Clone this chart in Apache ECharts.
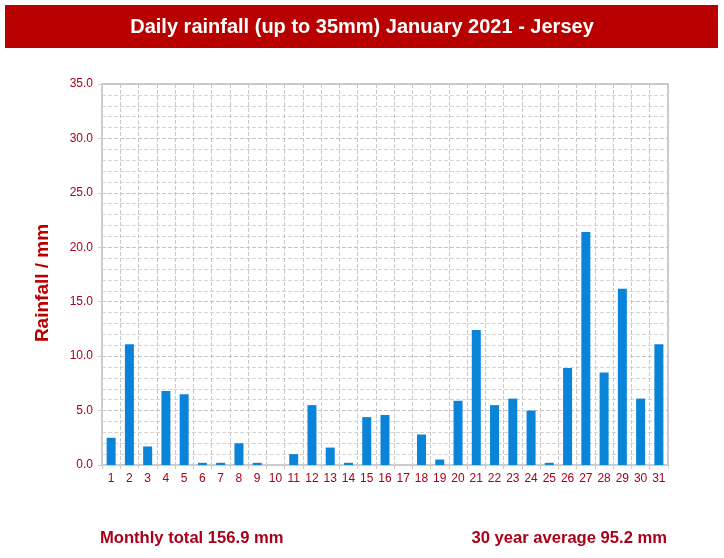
<!DOCTYPE html>
<html>
<head>
<meta charset="utf-8">
<script src="https://cdn.jsdelivr.net/npm/echarts@6/dist/echarts.min.js"></script>
<style>
  html, body { margin: 0; padding: 0; background: #fff; }
  #chart { width: 724px; height: 558px; }
</style>
</head>
<body>
<div id="chart"></div>
<script>
// daily rainfall, January 2021, Jersey
const days = [];
for (let d = 1; d <= 31; d++) days.push(String(d));

const rainfall = [
  2.5, 11.1, 1.7, 6.8, 6.5, 0.2, 0.2, 2.0, 0.2, 0.0,
  1.0, 5.5, 1.6, 0.2, 4.4, 4.6, 0.0, 2.8, 0.5, 5.9,
  12.4, 5.5, 6.1, 5.0, 0.2, 8.9, 21.4, 8.5, 16.2, 6.1,
  11.1
];

const yMin = 0;
const yMax = 35;
const yStep = 5;

const titleText = "Daily rainfall (up to 35mm) January 2021 - Jersey";
const yAxisTitle = "Rainfall / mm";
const totalText = "Monthly total 156.9 mm";
const averageText = "30 year average 95.2 mm";

const darkRed = "#a8001a";
const bandRed = "#b80000";
const fontFamily = "'Liberation Sans', Arial, sans-serif";

const chart = echarts.init(document.getElementById("chart"));

chart.setOption({
  animation: false,
  graphic: [
    {
      type: "rect",
      shape: { x: 5, y: 5, width: 713, height: 43 },
      style: { fill: bandRed },
    },
    {
      type: "text",
      x: 362,
      y: 27,
      style: {
        text: titleText,
        fill: "#fff",
        font: "bold 20px " + fontFamily,
        align: "center",
        verticalAlign: "middle",
      },
    },
    {
      // y axis title, sits a little below the plot's middle
      type: "text",
      x: 43,
      y: 283,
      rotation: Math.PI / 2,
      style: {
        text: yAxisTitle,
        fill: bandRed,
        font: "bold 19px " + fontFamily,
        align: "center",
        verticalAlign: "middle",
      },
    },
    {
      type: "text",
      x: 100,
      y: 538,
      style: {
        text: totalText,
        fill: darkRed,
        font: "bold 16.6px " + fontFamily,
        align: "left",
        verticalAlign: "middle",
      },
    },
    {
      type: "text",
      x: 667,
      y: 538,
      style: {
        text: averageText,
        fill: darkRed,
        font: "bold 16.6px " + fontFamily,
        align: "right",
        verticalAlign: "middle",
      },
    },
  ],
  grid: {
    left: 102,
    right: 56,
    top: 84,
    bottom: 93,
    show: true,
    borderColor: "#cccccc",
    borderWidth: 2,
  },
  xAxis: {
    type: "category",
    data: days,
    boundaryGap: true,
    axisLine: { lineStyle: { color: "#cccccc", width: 2 } },
    axisTick: { show: true, length: 4, lineStyle: { color: "#cccccc" } },
    axisLabel: {
      color: darkRed,
      fontSize: 12,
      fontFamily: fontFamily,
      interval: 0,
      margin: 8,
    },
    splitLine: {
      show: true,
      lineStyle: { color: "#c8c8c8", type: "dashed", width: 1 },
    },
  },
  yAxis: {
    type: "value",
    min: yMin,
    max: yMax,
    interval: yStep,
    axisLine: { show: true, lineStyle: { color: "#cccccc", width: 2 } },
    axisTick: { show: true, length: 4, lineStyle: { color: "#cccccc" } },
    axisLabel: {
      color: darkRed,
      fontSize: 12,
      fontFamily: fontFamily,
      margin: 9,
      formatter: (v) => v.toFixed(1),
    },
    splitLine: {
      show: true,
      lineStyle: { color: "#c4c4c4", type: "dashed", width: 1 },
    },
    minorTick: { show: false, splitNumber: 5 },
    minorSplitLine: {
      show: true,
      lineStyle: { color: "#d4d4d4", type: "dashed", width: 1 },
    },
  },
  series: [
    {
      name: "Rainfall",
      type: "bar",
      data: rainfall,
      barWidth: 9,
      itemStyle: { color: "#0a84d8" },
    },
  ],
});
</script>
</body>
</html>
